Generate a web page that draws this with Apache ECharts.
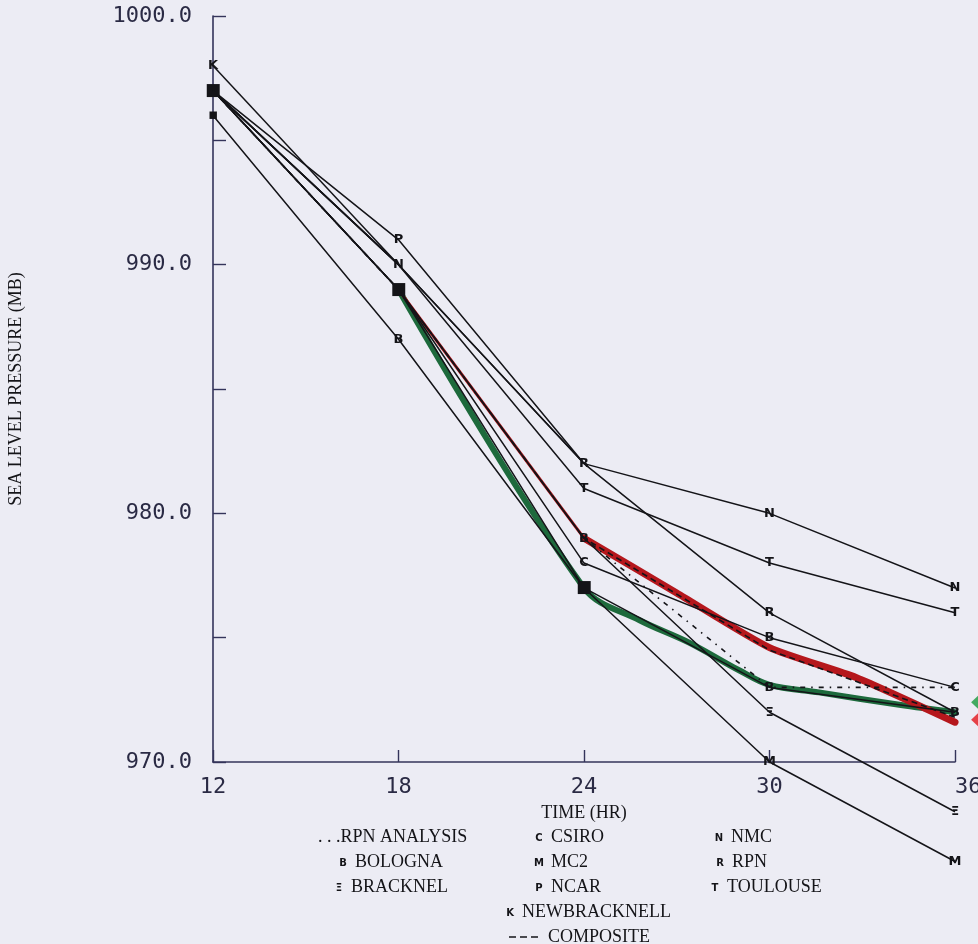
<!DOCTYPE html>
<html>
<head>
<meta charset="utf-8">
<script src="https://cdn.jsdelivr.net/npm/echarts@6/dist/echarts.min.js"></script>
<style>
  html, body { margin: 0; padding: 0; background: #ececf4; }
  #chart { width: 978px; height: 944px; }
</style>
</head>
<body>
<div id="chart"></div>
<script>
// Forecast hours and sea level pressure (mb) for each model
const hours = [12, 18, 24, 30, 36];

const rpnAnalysis  = [997, 989, 979, 973, 973];
const bologna      = [997, 989, 977, 973, 972];
const bracknel     = [997, 989, 979, 972, 968];
const csiro        = [997, 989, 978, 975, 973];
const mc2          = [996, 987, 977, 970, 966];
const ncar         = [997, 991, 982, null, null];
const newbracknell = [998, 990, null, null, null];
const nmc          = [997, 990, 982, 980, 977];
const rpn          = [997, 990, 982, 976, 972];
const toulouse     = [997, 990, 981, 978, 976];
const composite    = [997, 989, 979, 974.5, 971.8];

// Hand-analysed tracks (hour, pressure)
const greenHours     = [18, 24, 25.8, 27.4, 29, 30, 31.6, 34.2, 36];
const greenValues    = [989, 977, 975.7, 974.8, 973.7, 973.1, 972.8, 972.3, 972.0];
const redLeadHours   = [18, 24];
const redLeadValues  = [989, 979];
const redHours       = [24, 27, 30, 32.8, 36];
const redValues      = [979, 976.8, 974.6, 973.4, 971.6];

// End-of-track pointers beyond the last hour
const pointerHour   = 36.78;
const greenPointer  = 972.4;
const redPointer    = 971.7;

// Y axis tick labels
const yLabelValues = [970, 980, 990, 1000];

const INK = '#141418';
const AXIS = '#34345a';
const MONO = '"DejaVu Sans Mono", "Liberation Mono", monospace';
const SERIF = '"Liberation Serif", "DejaVu Serif", serif';

// Marker glyphs drawn at each forecast hour ('' = none shown)
const glyphs = {
  rpnAnalysis:  ['', '', '', '', ''],
  bologna:      ['■', '■', '■', 'B', 'B'],
  bracknel:     ['', '', 'B', 'Ξ', 'Ξ'],
  csiro:        ['', '', 'C', 'B', 'C'],
  mc2:          ['▪', 'B', '', 'M', 'M'],
  ncar:         ['', 'P', '', '', ''],
  newbracknell: ['K', '', '', '', ''],
  nmc:          ['', 'N', '', 'N', 'N'],
  rpn:          ['', '', 'R', 'R', ''],
  toulouse:     ['', '', 'T', 'T', 'T'],
  composite:    ['', '', '', '', '']
};

function glyphLabel(g) {
  if (!g) return { show: false };
  const big = g === '■';
  const small = g === '▪';
  return {
    show: true,
    formatter: g,
    position: 'inside',
    color: INK,
    fontFamily: '"DejaVu Sans", sans-serif',
    fontWeight: 'bold',
    fontSize: big ? 17 : (small ? 15 : 13)
  };
}

function modelSeries(name, key, values, lineStyle, z) {
  const data = [];
  values.forEach((v, i) => {
    if (v === null) return;
    data.push({ value: [hours[i], v], label: glyphLabel(glyphs[key][i]) });
  });
  return {
    type: 'line',
    name: name,
    data: data,
    symbol: 'circle',
    symbolSize: 1,
    itemStyle: { color: 'rgba(0,0,0,0)' },
    lineStyle: lineStyle,
    clip: false,
    z: z,
    silent: true,
    animation: false
  };
}

function trackSeries(name, xs, ys, color, width, smooth) {
  return {
    type: 'line',
    name: name,
    data: xs.map((h, i) => [h, ys[i]]),
    showSymbol: false,
    symbol: 'none',
    smooth: smooth,
    lineStyle: { color: color, width: width, cap: 'round', join: 'round' },
    clip: false,
    z: 2,
    silent: true,
    animation: false
  };
}

const thin = { color: INK, width: 1.5 };

const series = [
  trackSeries('green track', greenHours, greenValues, '#1d6a3c', 6, 0.35),
  trackSeries('red track lead', redLeadHours, redLeadValues, '#b5171c', 3, false),
  trackSeries('red track', redHours, redValues, '#b5171c', 7, 0.2),
  modelSeries('BOLOGNA', 'bologna', bologna, thin, 5),
  modelSeries('BRACKNEL', 'bracknel', bracknel, thin, 5),
  modelSeries('CSIRO', 'csiro', csiro, thin, 5),
  modelSeries('MC2', 'mc2', mc2, thin, 5),
  modelSeries('NCAR', 'ncar', ncar, thin, 5),
  modelSeries('NEWBRACKNELL', 'newbracknell', newbracknell, thin, 5),
  modelSeries('NMC', 'nmc', nmc, thin, 5),
  modelSeries('RPN', 'rpn', rpn, thin, 5),
  modelSeries('TOULOUSE', 'toulouse', toulouse, thin, 5),
  modelSeries('RPN ANALYSIS', 'rpnAnalysis', rpnAnalysis,
    { color: INK, width: 1.6, type: [5, 6, 1.5, 6] }, 6),
  modelSeries('COMPOSITE', 'composite', composite,
    { color: INK, width: 1.6, type: [6, 4] }, 6),
  {
    type: 'scatter',
    name: 'pointers',
    data: [
      { value: [pointerHour, greenPointer], itemStyle: { color: '#1a9a3c' } },
      { value: [pointerHour, redPointer], itemStyle: { color: '#e3151b' } }
    ],
    symbol: 'diamond',
    symbolSize: [16, 15],
    clip: false,
    z: 7,
    silent: true,
    animation: false
  }
];

// Legend block drawn as text rows under the axis
const legendRows = [
  { x: 318, y: 837, glyph: '',  text: '. . .RPN ANALYSIS' },
  { x: 355, y: 862, glyph: 'B', text: 'BOLOGNA' },
  { x: 351, y: 887, glyph: 'Ξ', text: 'BRACKNEL' },
  { x: 551, y: 837, glyph: 'C', text: 'CSIRO' },
  { x: 551, y: 862, glyph: 'M', text: 'MC2' },
  { x: 551, y: 887, glyph: 'P', text: 'NCAR' },
  { x: 522, y: 912, glyph: 'K', text: 'NEWBRACKNELL' },
  { x: 731, y: 837, glyph: 'N', text: 'NMC' },
  { x: 732, y: 862, glyph: 'R', text: 'RPN' },
  { x: 727, y: 887, glyph: 'T', text: 'TOULOUSE' }
];

const graphics = [];
legendRows.forEach(r => {
  graphics.push({
    type: 'text', silent: true,
    style: { text: r.text, x: r.x, y: r.y, fill: INK, font: '18px ' + SERIF, verticalAlign: 'middle', align: 'left' }
  });
  if (r.glyph) {
    graphics.push({
      type: 'text', silent: true,
      style: { text: r.glyph, x: r.x - 12, y: r.y + 1, fill: INK, font: 'bold 10px "DejaVu Sans", sans-serif', verticalAlign: 'middle', align: 'center' }
    });
  }
});
graphics.push({
  type: 'line', silent: true,
  shape: { x1: 509, y1: 937, x2: 538, y2: 937 },
  style: { stroke: INK, lineWidth: 1.6, lineDash: [7, 4] }
});
graphics.push({
  type: 'text', silent: true,
  style: { text: 'COMPOSITE', x: 548, y: 937, fill: INK, font: '18px ' + SERIF, verticalAlign: 'middle', align: 'left' }
});

const chart = echarts.init(document.getElementById('chart'), null, { renderer: 'canvas' });
chart.setOption({
  backgroundColor: '#ececf4',
  animation: false,
  grid: { left: 213, right: 23, top: 16, bottom: 182, containLabel: false, outerBoundsMode: 'none' },
  xAxis: {
    type: 'value',
    min: 12, max: 36, interval: 6,
    name: 'TIME (HR)',
    nameLocation: 'middle',
    nameGap: 42,
    nameTextStyle: { fontFamily: SERIF, fontSize: 18, color: INK },
    axisLine: { lineStyle: { color: AXIS, width: 1.6 } },
    axisTick: { inside: true, length: 12, lineStyle: { color: AXIS, width: 1.4 } },
    axisLabel: { margin: 14, fontFamily: MONO, fontSize: 22, color: '#2a2a44', alignMaxLabel: 'left' },
    splitLine: { show: false }
  },
  yAxis: {
    type: 'value',
    min: 970, max: 1000, interval: 5,
    name: 'SEA LEVEL PRESSURE (MB)',
    nameLocation: 'middle',
    nameRotate: 90,
    nameGap: 188,
    nameTextStyle: { fontFamily: SERIF, fontSize: 18, color: INK },
    axisLine: { lineStyle: { color: AXIS, width: 1.6 } },
    axisTick: { inside: true, length: 13, lineStyle: { color: AXIS, width: 1.4 } },
    axisLabel: {
      margin: 21, fontFamily: MONO, fontSize: 22, color: '#2a2a44',
      formatter: v => (yLabelValues.indexOf(v) >= 0 ? v.toFixed(1) : '')
    },
    splitLine: { show: false }
  },
  series: series,
  graphic: graphics
});
</script>
</body>
</html>
